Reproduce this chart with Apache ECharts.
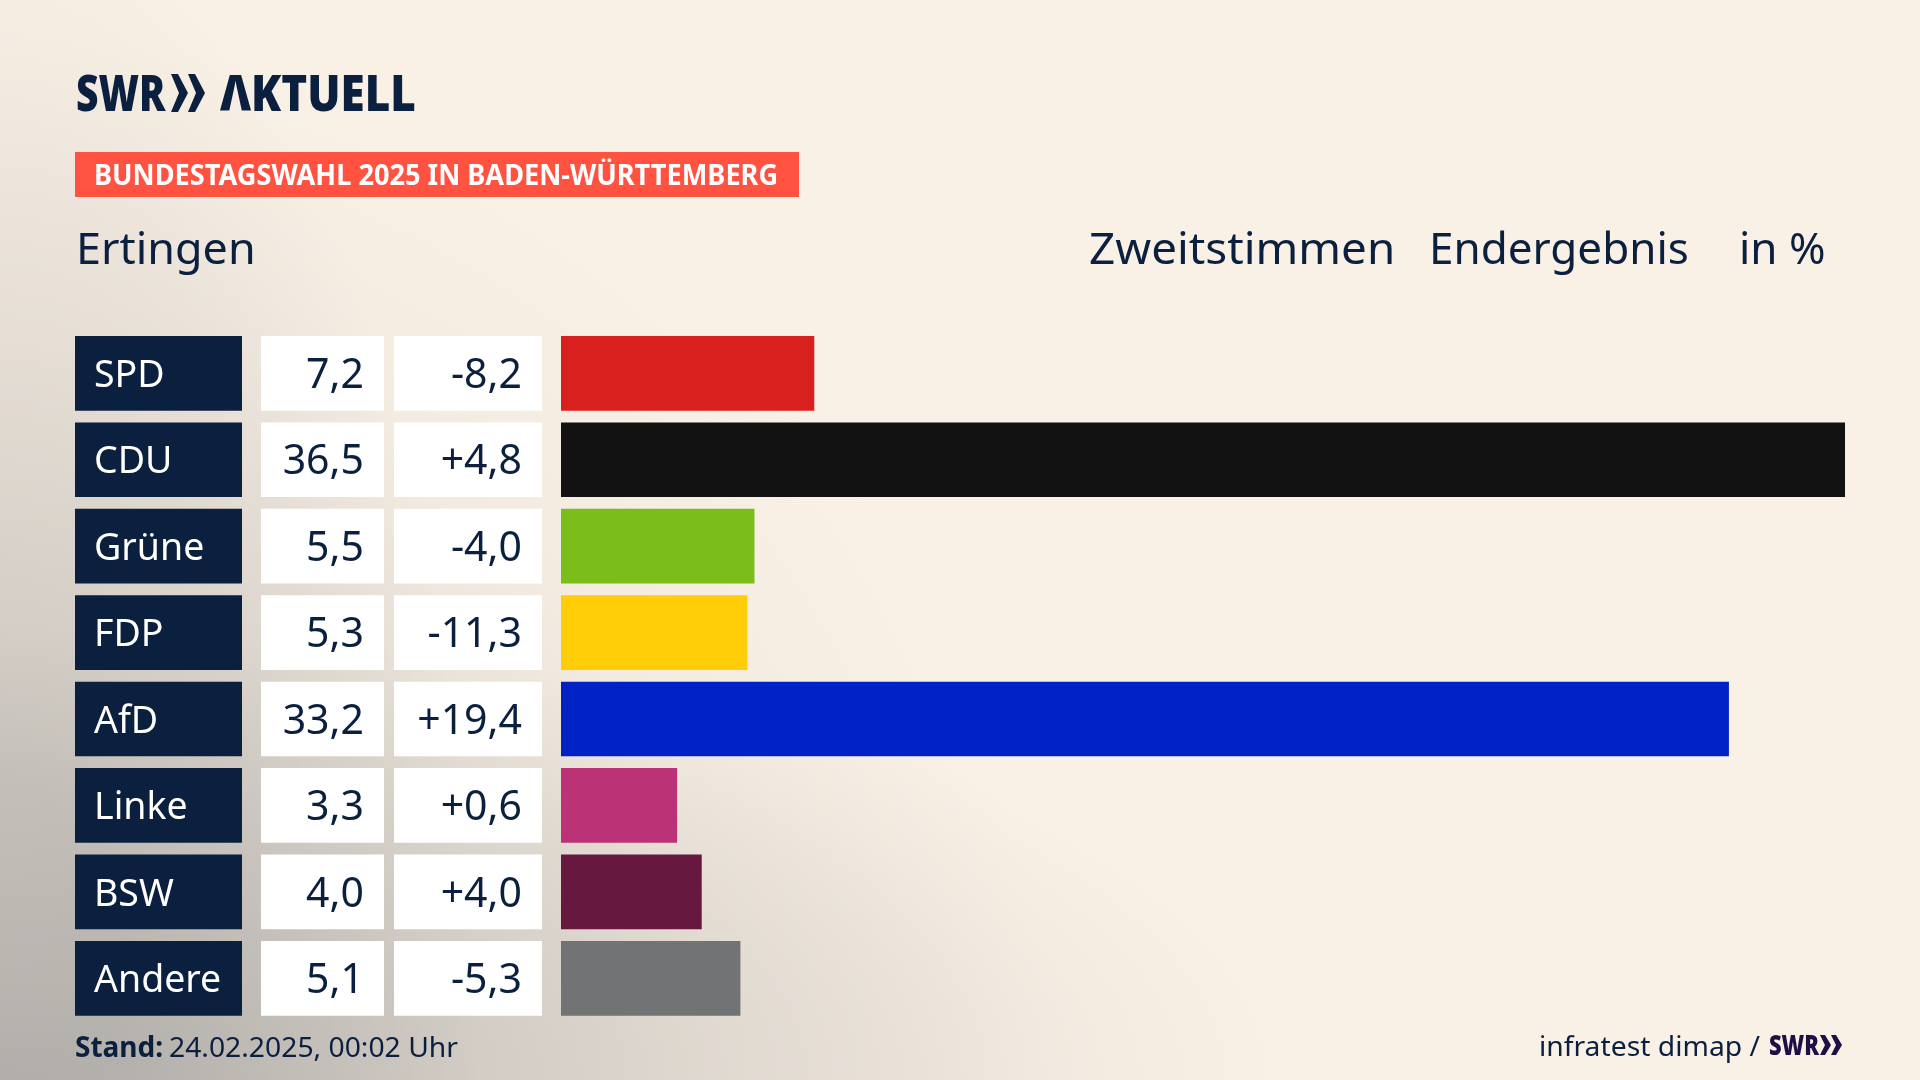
<!DOCTYPE html>
<html>
<head>
<meta charset="utf-8">
<style>
html, body { margin: 0; padding: 0; background: #faf1e6; }
#chart { width: 1920px; height: 1080px; }
</style>
<script src="https://cdn.jsdelivr.net/npm/echarts@6/dist/echarts.min.js"></script>
</head>
<body>
<div id="chart"></div>
<script>
var parties = ['SPD', 'CDU', 'Grüne', 'FDP', 'AfD', 'Linke', 'BSW', 'Andere']
var results = [7.2, 36.5, 5.5, 5.3, 33.2, 3.3, 4.0, 5.1]
var changes = [-8.2, 4.8, -4.0, -11.3, 19.4, 0.6, 4.0, -5.3]
var partyColors = ['#d8201e', '#121212', '#7bbd1a', '#ffce09', '#0021c4', '#bc3276', '#66183f', '#727375']
var cellFill = [1, 1, 1, 1, 1, 1, 1, 1]

var navy = '#0b1f3f'
var font = '"Noto Sans"'
var rowsTop = 330.1, rowsHeight = 691.4

function fmt(v) { return v.toFixed(1).replace('.', ',') }
function fmtChange(v) { return (v > 0 ? '+' : '') + fmt(v) }

// the two arrows of the SWR logo
function chevrons(x, y, h, w, flat, notch, step, fill) {
    return [0, 1].map(function (i) {
        var a = x + i * step
        var mid = y + h / 2
        return {
            type: 'polygon',
            shape: { points: [[a, y], [a + flat, y], [a + w, mid], [a + flat, y + h], [a, y + h], [a + notch, mid]] },
            style: { fill: fill }
        }
    })
}

// y is the vertical middle of the text line
function txt(x, y, text, size, opts) {
    opts = opts || {}
    return {
        type: 'text',
        x: x, y: y,
        scaleX: opts.scaleX || 1,
        style: {
            text: text,
            fill: opts.fill || navy,
            font: (opts.weight || 'normal') + ' ' + size + 'px ' + font,
            align: 'left',
            verticalAlign: 'middle'
        }
    }
}

// grey glow from the bottom left corner, squeezed along x or y to make it an ellipse
function glow(r, sx, sy, stops) {
    return {
        type: 'rect',
        z: -10,
        silent: true,
        originX: 0, originY: 1080,
        scaleX: sx, scaleY: sy,
        shape: { x: 0, y: 1080 - r, width: r, height: r },
        style: {
            fill: new echarts.graphic.RadialGradient(0, 1080, r, stops.map(function (s) {
                return { offset: s[0], color: 'rgba(160,158,155,' + s[1] + ')' }
            }), true)
        }
    }
}

// one grid per table column, all rows share the same vertical layout
var columns = [
    { left: 75, width: 167 },
    { left: 261, width: 123 },
    { left: 394, width: 148 },
    { left: 561, width: 1284 }
]

function cellSeries(idx, color, textColor, position, padding, size, formatter) {
    return {
        type: 'bar',
        xAxisIndex: idx, yAxisIndex: idx,
        data: cellFill,
        barWidth: 74.7,
        silent: true,
        itemStyle: { color: color },
        label: {
            show: true,
            position: position,
            distance: padding,
            offset: [0, 3],
            color: textColor,
            fontFamily: font,
            fontSize: size,
            formatter: formatter
        }
    }
}

var chart = echarts.init(document.getElementById('chart'))
chart.setOption({
    animation: false,
    backgroundColor: '#faf1e6',
    grid: columns.map(function (c) {
        return { left: c.left, width: c.width, top: rowsTop, height: rowsHeight }
    }),
    xAxis: columns.map(function (c, i) {
        return { gridIndex: i, type: 'value', min: 0, max: i === 3 ? 36.5 : 1, show: false }
    }),
    yAxis: columns.map(function (c, i) {
        return { gridIndex: i, type: 'category', data: parties, inverse: true, show: false }
    }),
    series: [
        cellSeries(0, navy, '#ffffff', 'insideLeft', 19, 37.5, function (p) { return parties[p.dataIndex] }),
        cellSeries(1, '#ffffff', navy, 'insideRight', 20, 41, function (p) { return fmt(results[p.dataIndex]) }),
        cellSeries(2, '#ffffff', navy, 'insideRight', 20, 41, function (p) { return fmtChange(changes[p.dataIndex]) }),
        {
            type: 'bar',
            xAxisIndex: 3, yAxisIndex: 3,
            data: results.map(function (v, i) {
                return { value: v, itemStyle: { color: partyColors[i] } }
            }),
            barWidth: 74.7,
            silent: true
        }
    ],
    graphic: [
        glow(1050, 1, 1, [[0, 0.5], [0.33, 0.28], [0.7, 0.08], [1, 0]]),
        glow(1300, 1, 0.35, [[0, 0.5], [0.23, 0.35], [0.65, 0.18], [0.85, 0.07], [1, 0]]),
        glow(1200, 0.4, 1, [[0, 0.2], [0.25, 0.3], [0.52, 0.2], [0.77, 0.1], [1, 0]]),
        // logo
        txt(76, 97, 'SWR', 50, { weight: '900', scaleX: 0.78 }),
        txt(220, 97, 'ΛKTUELL', 50, { weight: '900', scaleX: 0.88 })
    ].concat(chevrons(171, 74, 38, 17, 7, 8, 17, navy)).concat([
        { type: 'rect', shape: { x: 75, y: 152, width: 724, height: 45 }, style: { fill: '#ff5240' } },
        txt(94, 177, 'BUNDESTAGSWAHL 2025 IN BADEN-WÜRTTEMBERG', 28, { weight: 'bold', fill: '#ffffff', scaleX: 0.97 }),
        txt(76, 251, 'Ertingen', 44, { scaleX: 1.02 }),
        txt(1089, 251, 'Zweitstimmen', 44, { scaleX: 1.04 }),
        txt(1429, 251, 'Endergebnis', 44),
        txt(1739, 251, 'in %', 44),
        txt(75, 1049, 'Stand:', 28, { weight: 'bold' }),
        txt(169, 1049, '24.02.2025, 00:02 Uhr', 28, { scaleX: 1.01 }),
        txt(1539, 1048, 'infratest dimap /', 28, { scaleX: 1.01 }),
        txt(1769, 1047, 'SWR', 28, { weight: '900', fill: '#1e0f45', scaleX: 0.78 })
    ]).concat(chevrons(1820, 1035, 20, 11, 5, 5, 11, '#1e0f45'))
})
</script>
</body>
</html>
